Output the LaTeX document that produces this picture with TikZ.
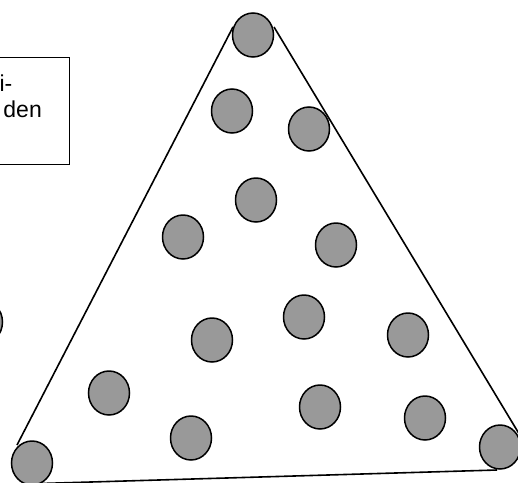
\documentclass[tikz,border=0pt]{standalone}
\usepackage{fontspec}
\setmainfont{Liberation Sans}
\usetikzlibrary{shapes.geometric}
\definecolor{dotfill}{RGB}{153,153,153}
\begin{document}
\begin{tikzpicture}[x=1pt,y=-1pt,
  dot/.style={ellipse,draw=black,line width=1.5pt,fill=dotfill,minimum width=41pt,minimum height=44pt,inner sep=0pt},
  edge/.style={draw=black,line width=1.6pt},
  txt/.style={font=\fontsize{23}{26}\selectfont,inner sep=0pt}]
\useasboundingbox (0,0) rectangle (518,482);
\clip (0,0) rectangle (518,482);
% text box (cropped)
\node[draw=black,line width=1.3pt,minimum width=130pt,minimum height=107pt,inner sep=0pt,anchor=north east] (box) at (70,57) {};
\node[txt,anchor=base east] (t1) at (12.5,91) {i-};
\node[txt,anchor=base east] (t2) at (42,117) {den};
% triangle sides
\coordinate (a1) at (233,27);
\coordinate (a2) at (17,445);
\coordinate (b1) at (274,27);
\coordinate (b2) at (521,437);
\coordinate (c1) at (40,483.5);
\coordinate (c2) at (497,470);
\draw[edge] (a1) -- (a2);
\draw[edge] (b1) -- (b2);
\draw[edge] (c1) -- (c2);
% circles
\node[dot] (d1) at (253,35) {};
\node[dot] (d2) at (232,111) {};
\node[dot] (d3) at (309,129) {};
\node[dot] (d4) at (256,200) {};
\node[dot] (d5) at (183,237) {};
\node[dot] (d6) at (336,245) {};
\node[dot] (d7) at (304,317) {};
\node[dot] (d8) at (212,340) {};
\node[dot] (d9) at (408,335) {};
\node[dot] (d10) at (109,393) {};
\node[dot] (d11) at (320,407) {};
\node[dot] (d12) at (425,418) {};
\node[dot] (d13) at (191,438) {};
\node[dot] (d14) at (32,463) {};
\node[dot] (d15) at (500,447) {};
\node[dot] (d16) at (-18,322) {};
\end{tikzpicture}
\end{document}
